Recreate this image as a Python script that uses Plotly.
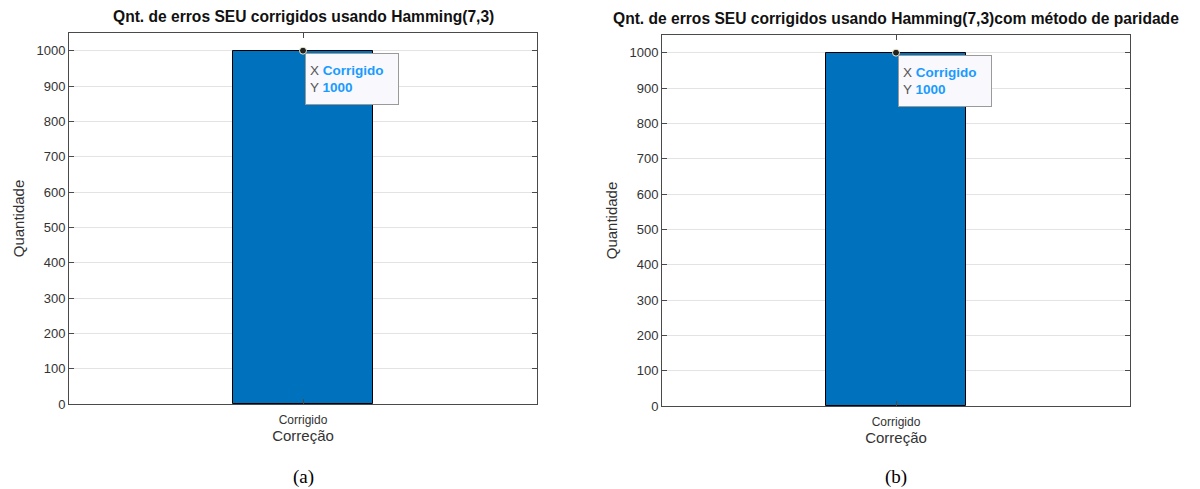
import plotly.graph_objects as go

categories = ["Corrigido"]
values_a = [1000]
values_b = [1000]
titles = ["Qnt. de erros SEU corrigidos usando Hamming(7,3)",
          "Qnt. de erros SEU corrigidos usando Hamming(7,3)com método de paridade"]
captions = ["(a)", "(b)"]
xlabel = "Correção"
ylabel = "Quantidade"
yticks = [0, 100, 200, 300, 400, 500, 600, 700, 800, 900, 1000]

W, H = 1200, 489
BAR = "#0072BD"
AX = "#4a4a4a"
TXT = "#333333"
FONT = "Liberation Sans, Arial, sans-serif"

# pixel boxes of the axes (left, top, right, bottom)
boxes = [(69, 33, 537, 404), (662, 35, 1130, 406)]

fig = go.Figure()
series = [values_a, values_b]

for i, (vals, box) in enumerate(zip(series, boxes)):
    l, t, r, b = box
    xa = "x" if i == 0 else "x2"
    ya = "y" if i == 0 else "y2"
    fig.add_trace(go.Bar(x=categories, y=vals, width=0.6, marker=dict(color=BAR, line=dict(color="#000000", width=1)),
                         xaxis=xa, yaxis=ya, showlegend=False, hoverinfo="skip"))
    fig.add_trace(go.Scatter(x=categories, y=vals, mode="markers", xaxis=xa, yaxis=ya, showlegend=False,
                             marker=dict(size=7, color="#222222", line=dict(color="#f5f0d0", width=1)),
                             hoverinfo="skip", cliponaxis=False))
    axkey = "" if i == 0 else "2"
    fig.update_layout(**{
        "xaxis" + axkey: dict(domain=[l / W, r / W], anchor=ya, type="category", range=[-1, 1],
                              showline=True, linecolor=AX, linewidth=1, mirror="ticks",
                              ticks="inside", ticklen=5, tickcolor=AX, showgrid=False,
                              ticklabelstandoff=5,
                              tickfont=dict(family=FONT, size=12, color=TXT),
                              title=dict(text=xlabel, font=dict(family=FONT, size=15, color=TXT), standoff=4),
                              automargin=False, fixedrange=True),
        "yaxis" + axkey: dict(domain=[1 - b / H, 1 - t / H], anchor=xa, range=[0, 1050],
                              tickvals=yticks, showline=True, linecolor=AX, linewidth=1, mirror="ticks",
                              ticks="inside", ticklen=5, tickcolor=AX, showgrid=True, gridcolor="#e3e3e3",
                              gridwidth=1, zeroline=False,
                              tickfont=dict(family=FONT, size=13, color=TXT),
                              title=dict(text=ylabel, font=dict(family=FONT, size=15, color=TXT), standoff=8),
                              automargin=False, fixedrange=True),
    })
    cx = (l + r) / 2 / W
    fig.add_annotation(text="<b>" + titles[i] + "</b>", xref="paper", yref="paper",
                       x=cx, y=1 - (17 + i * 2) / H, xanchor="center", yanchor="middle", showarrow=False,
                       font=dict(family=FONT, size=15.6, color="#111111"))
    fig.add_annotation(text=captions[i], xref="paper", yref="paper",
                       x=cx, y=1 - 477 / H, xanchor="center", yanchor="middle", showarrow=False,
                       font=dict(family="Liberation Serif, Times New Roman, serif", size=19, color="#000000"))
    tip = ("<span style='color:#555555'>X</span> <b><span style='color:#1a9bff'>%s</span></b><br>"
           "<span style='color:#555555'>Y</span> <b><span style='color:#1a9bff'>%d</span></b>") % (categories[0], vals[0])
    fig.add_annotation(text=tip, xref=xa, yref=ya, x=categories[0], y=vals[0], xanchor="left", yanchor="top",
                       xshift=2, yshift=-2, showarrow=False, align="left", bgcolor="#f8f8fd",
                       bordercolor="#9a9a9a", borderwidth=1, borderpad=4, width=84, height=42,
                       font=dict(family=FONT, size=13.5, color="#1a9bff"))

fig.update_layout(width=W, height=H, margin=dict(l=0, r=0, t=0, b=0),
                  paper_bgcolor="white", plot_bgcolor="white", bargap=0)

fig.write_html("out.html")
